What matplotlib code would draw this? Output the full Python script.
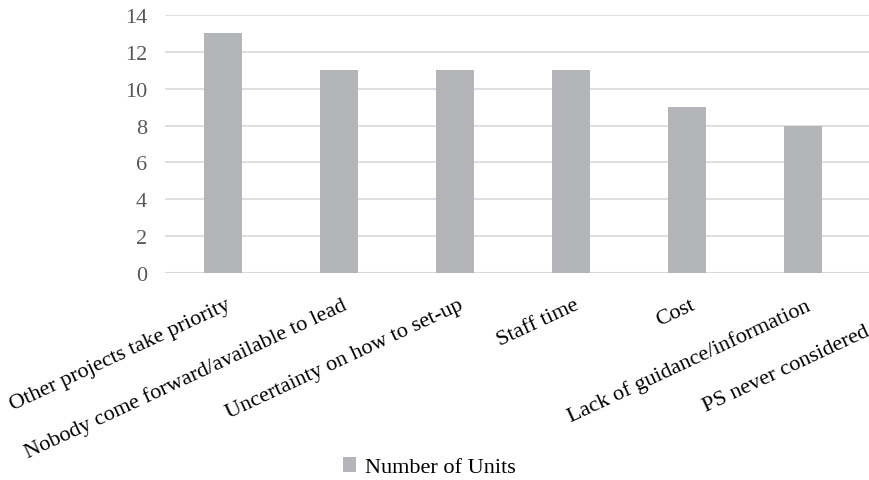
import numpy as np
import matplotlib
matplotlib.use("Agg")
import matplotlib.pyplot as plt
from matplotlib.patches import Patch
from matplotlib.transforms import ScaledTranslation

categories = [
    "Other projects take priority",
    "Nobody come forward/available to lead",
    "Uncertainty on how to set-up",
    "Staff time",
    "Cost",
    "Lack of guidance/information",
    "PS never considered it vital",
]
values = [13, 11, 11, 11, 9, 8, np.nan]
yticks = [0, 2, 4, 6, 8, 10, 12, 14]
series_name = "Number of Units"

plt.rcParams['font.family'] = ['Liberation Serif', 'DejaVu Serif']

W, H = 870, 481
fig = plt.figure(figsize=(W / 100, H / 100), dpi=100)
left = 165 / W
bottom = (H - 274) / H
top = (H - 16) / H
width = 812 / W
ax = fig.add_axes([left, bottom, width, top - bottom])

x = np.arange(len(categories))
bar_color = "#b4b5b8"
ax.bar(x, values, width=0.32, color=bar_color, zorder=3)

ax.set_xlim(-0.5, len(categories) - 0.5)
ax.set_ylim(0, 14)
ax.set_yticks(yticks)
ax.set_yticklabels([str(v) for v in yticks], fontsize=16, color="#595959")
ax.yaxis.grid(True, color="#d9d9d9", linewidth=1.2, zorder=0)
ax.tick_params(axis="y", length=0, pad=13)
ax.tick_params(axis="x", length=0, pad=16)
ax.set_xticks(x)
ax.set_xticklabels(categories, rotation=25, ha="right", rotation_mode="anchor",
                   fontsize=16, color="#000000")
offset = ScaledTranslation(2 / 72, 0, fig.dpi_scale_trans)
for lbl in ax.get_xticklabels():
    lbl.set_transform(lbl.get_transform() + offset)
for s in ax.spines.values():
    s.set_visible(False)
ax.axhline(0, color="#d9d9d9", linewidth=1.5, zorder=2)

handle = Patch(facecolor=bar_color, edgecolor="none")
fig.legend([handle], [series_name], loc="center", bbox_to_anchor=(429 / W, (H - 468) / H),
           frameon=False, fontsize=16, handlelength=0.6, handleheight=0.7,
           handletextpad=0.4)

fig.savefig("out.png", dpi=100)
